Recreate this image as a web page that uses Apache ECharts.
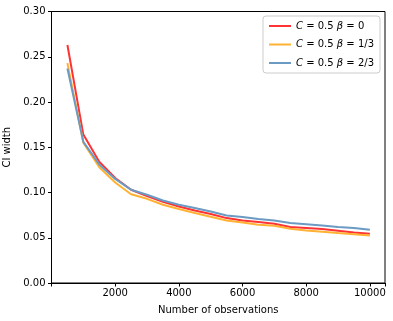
<!DOCTYPE html>
<html>
<head>
<meta charset="utf-8">
<script src="https://cdn.jsdelivr.net/npm/echarts@6/dist/echarts.min.js"></script>
<style>
  html, body { margin: 0; padding: 0; background: #fff; }
  #main { width: 393px; height: 321px; }
</style>
</head>
<body>
<div id="main"></div>
<script>
// sample sizes
const observations = [500, 1000, 1500, 2000, 2500, 3000, 3500, 4000, 4500, 5000,
  5500, 6000, 6500, 7000, 7500, 8000, 8500, 9000, 9500, 10000];
// CI width per beta
const beta0 = [0.263, 0.164, 0.134, 0.116, 0.103, 0.096, 0.0897, 0.0846, 0.0801, 0.0763,
  0.0717, 0.069, 0.0673, 0.0654, 0.0618, 0.0607, 0.0596, 0.0577, 0.0558, 0.0544];
const beta13 = [0.243, 0.155, 0.128, 0.111, 0.098, 0.093, 0.0864, 0.0817, 0.0773, 0.0733,
  0.069, 0.0669, 0.0643, 0.0632, 0.0599, 0.058, 0.0566, 0.0552, 0.054, 0.0525];
const beta23 = [0.237, 0.156, 0.131, 0.115, 0.103, 0.0975, 0.0912, 0.0864, 0.0828, 0.079,
  0.0746, 0.0728, 0.0706, 0.069, 0.0662, 0.065, 0.0636, 0.0618, 0.0607, 0.0588];
const seriesNames = ['C = 0.5 β = 0', 'C = 0.5 β = 1/3', 'C = 0.5 β = 2/3'];
const legendLabels = ['{i|C} = 0.5 {i|β} = 0', '{i|C} = 0.5 {i|β} = 1/3', '{i|C} = 0.5 {i|β} = 2/3'];
const yTicks = ['0.00', '0.05', '0.10', '0.15', '0.20', '0.25', '0.30'];

const font = 'DejaVu Sans';
const colors = ['#ff3333', '#ffb232', '#6b9bc3'];

function pairs(ys) {
  return observations.map((x, i) => [x, ys[i]]);
}

const chart = echarts.init(document.getElementById('main'), null, { renderer: 'canvas' });
const option = {
  animation: false,
  backgroundColor: '#fff',
  textStyle: { fontFamily: font },
  grid: {
    left: 51.5, right: 8, top: 11.5, bottom: 38,
    show: true, borderColor: '#000', borderWidth: 1,
    containLabel: false,
    outerBoundsMode: 'none'
  },
  legend: {
    right: 13, top: 16,
    orient: 'vertical',
    itemWidth: 22, itemHeight: 2, itemGap: 8.5,
    padding: [5, 6, 5, 6],
    borderColor: '#cccccc', borderWidth: 1, borderRadius: 3,
    backgroundColor: 'rgba(255,255,255,0.8)',
    icon: 'rect',
    data: seriesNames,
    formatter: name => legendLabels[seriesNames.indexOf(name)],
    textStyle: {
      fontFamily: font, fontSize: 10, color: '#000',
      rich: { i: { fontStyle: 'italic', fontFamily: font, fontSize: 10, color: '#000' } }
    }
  },
  xAxis: {
    type: 'value',
    min: 0, max: 10475, interval: 2000,
    name: 'Number of observations',
    nameLocation: 'middle', nameGap: 22,
    nameTextStyle: { fontFamily: font, fontSize: 10, color: '#000' },
    axisLine: { show: true, lineStyle: { color: '#000', width: 1 } },
    axisTick: { show: true, length: 3.5, lineStyle: { color: '#000' } },
    axisLabel: {
      fontFamily: font, fontSize: 10, color: '#000', margin: 5,
      formatter: v => (v > 0 && v % 2000 === 0) ? String(v) : ''
    },
    splitLine: { show: false }
  },
  yAxis: {
    type: 'value',
    min: 0, max: 0.3, interval: 0.05,
    name: 'CI width',
    nameLocation: 'middle', nameGap: 39,
    nameTextStyle: { fontFamily: font, fontSize: 10, color: '#000' },
    axisLine: { show: true, lineStyle: { color: '#000', width: 1 } },
    axisTick: { show: true, length: 3.5, lineStyle: { color: '#000' } },
    axisLabel: {
      fontFamily: font, fontSize: 10, color: '#000', margin: 6,
      formatter: v => yTicks[Math.round(v / 0.05)]
    },
    splitLine: { show: false }
  },
  series: [beta0, beta13, beta23].map((ys, k) => ({
    name: seriesNames[k],
    type: 'line',
    data: pairs(ys),
    showSymbol: false,
    symbol: 'none',
    color: colors[k],
    lineStyle: { color: colors[k], width: 2 },
    z: 2 + k
  }))
};
chart.setOption(option);
</script>
</body>
</html>
